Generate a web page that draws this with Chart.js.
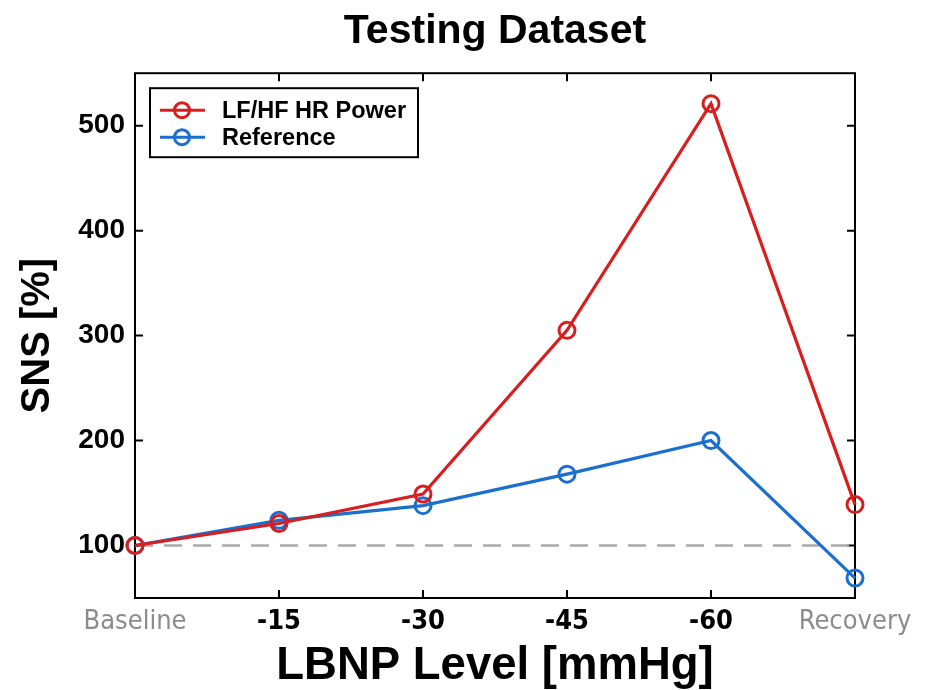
<!DOCTYPE html>
<html>
<head>
<meta charset="utf-8">
<script src="https://cdn.jsdelivr.net/npm/chart.js@4"></script>
<style>
  html, body { margin: 0; padding: 0; background: #fff; }
  #wrap { width: 930px; height: 690px; }
</style>
</head>
<body>
<div id="wrap"><canvas id="snsChart" width="930" height="690"></canvas></div>
<script>
// data
const levels = ['Baseline', '-15', '-30', '-45', '-60', 'Recovery'];
const lfhfPower = [100, 121, 149, 305, 521, 139];
const reference = [100, 124, 138, 168, 200, 69];
const baselineRef = [100, 100, 100, 100, 100, 100];
const yTicks = [100, 200, 300, 400, 500];

const RED = '#d81e1e';
const BLUE = '#1a6fcf';
const FONT = "'Liberation Sans', Arial, sans-serif";

// plot box with inward tick marks on all four sides
const framePlugin = {
    id: 'frame',
    beforeDatasetsDraw(chart){
        const {ctx, chartArea: a, scales} = chart;
        const len = 8;
        ctx.save();
        ctx.strokeStyle = '#000';
        ctx.lineWidth = 2;
        ctx.beginPath();
        scales.x.ticks.forEach((t, i) => {
            const px = scales.x.getPixelForTick(i);
            ctx.moveTo(px, a.bottom); ctx.lineTo(px, a.bottom - len);
            ctx.moveTo(px, a.top); ctx.lineTo(px, a.top + len);
        });
        scales.y.ticks.forEach(t => {
            const py = scales.y.getPixelForValue(t.value);
            ctx.moveTo(a.left, py); ctx.lineTo(a.left + len, py);
            ctx.moveTo(a.right, py); ctx.lineTo(a.right - len, py);
        });
        ctx.stroke();
        ctx.strokeRect(a.left, a.top, a.right - a.left, a.bottom - a.top);
        ctx.restore();
    }
};

// matlab style legend box in the upper left corner
const legendBox = {
    id: 'legendBox',
    afterDatasetsDraw(chart){
        const {ctx, chartArea: a} = chart;
        const items = chart.data.datasets.filter(d => d.inLegend);
        const x0 = a.left + 15, y0 = a.top + 15;
        const w = 268, h = 69;
        ctx.save();
        ctx.fillStyle = '#fff';
        ctx.fillRect(x0, y0, w, h);
        ctx.strokeStyle = '#000';
        ctx.lineWidth = 2;
        ctx.strokeRect(x0, y0, w, h);
        items.forEach((d, i) => {
            const cy = y0 + 22 + i * 27;
            ctx.strokeStyle = d.borderColor;
            ctx.lineWidth = 3;
            ctx.beginPath();
            ctx.moveTo(x0 + 10, cy); ctx.lineTo(x0 + 55, cy);
            ctx.stroke();
            ctx.lineWidth = 3;
            ctx.beginPath();
            ctx.arc(x0 + 32, cy, 7.5, 0, Math.PI * 2);
            ctx.stroke();
            ctx.fillStyle = '#000';
            ctx.font = 'bold 23.5px ' + FONT;
            ctx.textBaseline = 'middle';
            ctx.fillText(d.label, x0 + 72, cy + 1);
        });
        ctx.restore();
    }
};

function initSnsChart(){
    const ctx = document.getElementById('snsChart').getContext('2d');
    new Chart(ctx, {
        type: 'line',
        data: {
            labels: levels,
            datasets: [
                {
                    label: 'LF/HF HR Power',
                    inLegend: true,
                    data: lfhfPower,
                    borderColor: RED,
                    borderWidth: 3.2,
                    pointRadius: 8,
                    pointBorderWidth: 3,
                    pointBackgroundColor: 'rgba(0,0,0,0)',
                    pointBorderColor: RED,
                    clip: false,
                    order: 1
                },
                {
                    label: 'Reference',
                    inLegend: true,
                    data: reference,
                    borderColor: BLUE,
                    borderWidth: 3.2,
                    pointRadius: 8,
                    pointBorderWidth: 3,
                    pointBackgroundColor: 'rgba(0,0,0,0)',
                    pointBorderColor: BLUE,
                    clip: false,
                    order: 2
                },
                {
                    label: 'baseline',
                    data: baselineRef,
                    borderColor: '#a9a9a9',
                    borderWidth: 2.5,
                    borderDash: [18, 11],
                    pointRadius: 0,
                    order: 3
                }
            ]
        },
        options: {
            responsive: false,
            animation: false,
            layout: { padding: { left: 0, right: 75, top: 0, bottom: 0 } },
            plugins: {
                legend: { display: false },
                tooltip: { enabled: false },
                title: {
                    display: true,
                    fullSize: false,
                    text: 'Testing Dataset',
                    color: '#000',
                    font: { family: FONT, size: 41, weight: 'bold' },
                    padding: { top: 7, bottom: 17 }
                }
            },
            scales: {
                x: {
                    offset: false,
                    grid: { display: false, drawTicks: false },
                    border: { display: false },
                    afterFit: s => { s.height = 92; },
                    ticks: {
                        padding: 8,
                        maxRotation: 0,
                        autoSkip: false,
                        color: c => (c.index === 0 || c.index === levels.length - 1) ? '#8c8c8c' : '#000',
                        font: c => ({
                            family: "'Liberation Sans Narrow', 'DejaVu Sans Condensed', sans-serif",
                            size: 27,
                            weight: (c.index === 0 || c.index === levels.length - 1) ? 'normal' : 'bold'
                        })
                    },
                    title: {
                        display: true,
                        text: 'LBNP Level [mmHg]',
                        color: '#000',
                        font: { family: FONT, size: 45.5, weight: 'bold' },
                        padding: { top: 0, bottom: -4 }
                    }
                },
                y: {
                    min: 50,
                    max: 550,
                    grid: { display: false, drawTicks: false },
                    border: { display: false },
                    afterFit: s => { s.width = 135; },
                    afterBuildTicks: s => { s.ticks = yTicks.map(v => ({ value: v })); },
                    ticks: {
                        padding: 10,
                        color: '#000',
                        font: { family: FONT, size: 28, weight: 'bold' }
                    },
                    title: {
                        display: true,
                        text: 'SNS [%]',
                        color: '#000',
                        font: { family: FONT, size: 40, weight: 'bold' },
                        padding: 14
                    }
                }
            }
        },
        plugins: [framePlugin, legendBox]
    });
}

initSnsChart();
</script>
</body>
</html>
